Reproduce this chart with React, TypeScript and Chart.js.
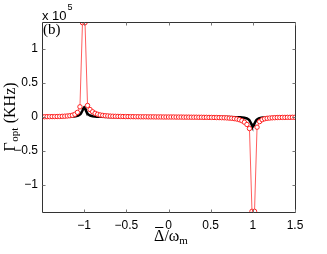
import React, { useEffect, useRef } from "react";
import { Chart, registerables } from "chart.js";

Chart.register(...registerables);

// Red series (markers), x = detuning / omega_m, y in units of 1e5 KHz
const redX = [
  -1.5, -1.47, -1.44, -1.41, -1.38, -1.35, -1.32, -1.29, -1.26, -1.23,
  -1.2, -1.17, -1.14, -1.11, -1.08, -1.05, -1.02, -0.99, -0.96, -0.93,
  -0.9, -0.87, -0.84, -0.81, -0.78, -0.75, -0.72, -0.69, -0.66, -0.63,
  -0.6, -0.57, -0.54, -0.51, -0.48, -0.45, -0.42, -0.39, -0.36, -0.33,
  -0.3, -0.27, -0.24, -0.21, -0.18, -0.15, -0.12, -0.09, -0.06, -0.03,
  0, 0.03, 0.06, 0.09, 0.12, 0.15, 0.18, 0.21, 0.24, 0.27,
  0.3, 0.33, 0.36, 0.39, 0.42, 0.45, 0.48, 0.51, 0.54, 0.57,
  0.6, 0.63, 0.66, 0.69, 0.72, 0.75, 0.78, 0.81, 0.84, 0.87,
  0.9, 0.93, 0.96, 0.99, 1.02, 1.05, 1.08, 1.11, 1.14, 1.17,
  1.2, 1.23, 1.26, 1.29, 1.32, 1.35, 1.38, 1.41, 1.44, 1.47, 1.5,
];
const redY = [
  0.004, 0.004, 0.005, 0.005, 0.006, 0.006, 0.007, 0.008, 0.01, 0.012,
  0.015, 0.019, 0.026, 0.04, 0.068, 0.15, 1.39, 1.39, 0.17, 0.11,
  0.077, 0.054, 0.04, 0.03, 0.024, 0.019, 0.016, 0.013, 0.011, 0.01,
  0.009, 0.008, 0.007, 0.006, 0.006, 0.005, 0.005, 0.004, 0.004, 0.003,
  0.003, 0.003, 0.002, 0.002, 0.002, 0.001, 0.001, 0.001, 0.0, 0.0,
  0.0, 0.0, 0.0, -0.001, -0.001, -0.001, -0.002, -0.002, -0.002, -0.003,
  -0.003, -0.003, -0.004, -0.004, -0.005, -0.005, -0.006, -0.006, -0.007, -0.008,
  -0.009, -0.01, -0.011, -0.013, -0.016, -0.019, -0.024, -0.03, -0.04, -0.054,
  -0.077, -0.11, -0.17, -1.39, -1.39, -0.15, -0.068, -0.04, -0.026, -0.019,
  -0.015, -0.012, -0.01, -0.008, -0.007, -0.006, -0.006, -0.005, -0.005, -0.004, -0.004,
];

// Black series (continuous line)
const blackX = [
  -1.5, -1.3, -1.2, -1.15, -1.1, -1.07, -1.05, -1.04, -1.03, -1.02, -1.01, -1.0,
  -0.99, -0.98, -0.97, -0.96, -0.95, -0.93, -0.9, -0.85, -0.8, -0.7, -0.5, 0,
  0.5, 0.7, 0.8, 0.85, 0.9, 0.93, 0.95, 0.96, 0.97, 0.98, 0.99, 1.0,
  1.01, 1.02, 1.03, 1.04, 1.05, 1.07, 1.1, 1.15, 1.2, 1.3, 1.5,
];
const blackY = [
  0.0005, 0.0014, 0.003, 0.0054, 0.0116, 0.022, 0.037, 0.05, 0.07, 0.097, 0.126, 0.14,
  0.126, 0.097, 0.07, 0.05, 0.037, 0.022, 0.0116, 0.0054, 0.003, 0.0014, 0.0005, 0,
  -0.0005, -0.0014, -0.003, -0.0054, -0.0116, -0.022, -0.037, -0.05, -0.07, -0.097, -0.126, -0.14,
  -0.126, -0.097, -0.07, -0.05, -0.037, -0.022, -0.0116, -0.0054, -0.003, -0.0014, -0.0005,
];

const xTicks = [-1, -0.5, 0, 0.5, 1, 1.5];
const yTicks = [-1, -0.5, 0, 0.5, 1];

const fmt = (v: number) => (v < 0 ? "\u2212" + String(Math.abs(v)) : String(v));

const decorPlugin = {
  id: "decor",
  afterDraw(chart: any) {
    const { ctx, chartArea, scales } = chart;
    const { left, right, top, bottom } = chartArea;
    const L = Math.round(left) + 0.5;
    const R = Math.round(right) + 0.5;
    const T = Math.round(top) + 0.5;
    const B = Math.round(bottom) + 0.5;
    ctx.save();
    // box
    ctx.strokeStyle = "#333";
    ctx.lineWidth = 1;
    ctx.beginPath();
    ctx.moveTo(L, T);
    ctx.lineTo(R, T);
    ctx.lineTo(R, B);
    ctx.lineTo(L, B);
    ctx.closePath();
    ctx.stroke();
    // inward ticks
    ctx.strokeStyle = "#777";
    ctx.beginPath();
    for (const v of xTicks) {
      const px = Math.round(scales.x.getPixelForValue(v)) + 0.5;
      ctx.moveTo(px, B);
      ctx.lineTo(px, B - 3);
      ctx.moveTo(px, T);
      ctx.lineTo(px, T + 3);
    }
    for (const v of yTicks) {
      const py = Math.round(scales.y.getPixelForValue(v)) + 0.5;
      ctx.moveTo(L, py);
      ctx.lineTo(L + 3, py);
      ctx.moveTo(R, py);
      ctx.lineTo(R - 3, py);
    }
    ctx.stroke();

    ctx.fillStyle = "#000";
    // x 10^5
    ctx.font = "13px 'Liberation Sans', Arial, sans-serif";
    ctx.textAlign = "left";
    ctx.textBaseline = "alphabetic";
    ctx.fillText("x 10", 42, 20);
    const w10 = ctx.measureText("x 10").width;
    ctx.font = "9px 'Liberation Sans', Arial, sans-serif";
    ctx.fillText("5", 42 + w10 + 1, 10);

    // (b)
    ctx.font = "15px 'Liberation Serif', 'Times New Roman', serif";
    ctx.fillText("(b)", 43, 34);

    // y title
    ctx.save();
    ctx.translate(15, 117);
    ctx.rotate(-Math.PI / 2);
    const big = "16px 'Liberation Serif', 'Times New Roman', serif";
    const small = "11px 'Liberation Serif', 'Times New Roman', serif";
    ctx.font = big;
    const wG = ctx.measureText("\u0393").width;
    const wRest = ctx.measureText(" (KHz)").width;
    ctx.font = small;
    const wOpt = ctx.measureText("opt").width;
    const total = wG + wOpt + wRest + 1;
    let x0 = -total / 2;
    ctx.font = big;
    ctx.fillText("\u0393", x0, 0);
    x0 += wG + 0.5;
    ctx.font = small;
    ctx.fillText("opt", x0, 3);
    x0 += wOpt + 0.5;
    ctx.font = big;
    ctx.fillText(" (KHz)", x0, 0);
    ctx.restore();

    // x title: Δ̄/ω_m
    const xc = (left + right) / 2 + 3;
    const yb = 241;
    ctx.font = big;
    const wD = ctx.measureText("\u0394").width;
    const wS = ctx.measureText("/").width;
    const wW = ctx.measureText("\u03c9").width;
    ctx.font = small;
    const wM = ctx.measureText("m").width;
    const tot = wD + wS + wW + wM + 1;
    let xs = xc - tot / 2;
    ctx.font = big;
    ctx.fillText("\u0394", xs, yb);
    ctx.fillRect(xs + 1, yb - 14, wD - 2, 1);
    xs += wD;
    ctx.fillText("/", xs, yb);
    xs += wS;
    ctx.fillText("\u03c9", xs, yb);
    xs += wW;
    ctx.font = small;
    ctx.fillText("m", xs, yb + 3);
    ctx.restore();
  },
};

export default function App() {
  const ref = useRef<HTMLCanvasElement | null>(null);
  useEffect(() => {
    if (!ref.current) return;
    const chart = new Chart(ref.current, {
      type: "scatter",
      data: {
        datasets: [
          {
            label: "red",
            data: redX.map((x, i) => ({ x, y: redY[i] })),
            showLine: true,
            borderColor: "rgba(255,0,0,0.8)",
            borderWidth: 0.8,
            pointRadius: 2.2,
            pointBorderWidth: 1,
            pointBorderColor: "#ff2020",
            pointBackgroundColor: "#fff",
            order: 0,
          },
          {
            label: "black",
            data: blackX.map((x, i) => ({ x, y: blackY[i] })),
            showLine: true,
            borderColor: "#000",
            borderWidth: 2.5,
            pointRadius: 0,
            order: 1,
          },
        ],
      },
      options: {
        animation: false,
        responsive: false,
        maintainAspectRatio: false,
        layout: { padding: { top: 22, right: 32, left: 0, bottom: 0 } },
        plugins: { legend: { display: false }, tooltip: { enabled: false } },
        scales: {
          x: {
            type: "linear",
            min: -1.5,
            max: 1.5,
            grid: { display: false, drawTicks: false },
            border: { display: false },
            afterFit: (s: any) => {
              s.height = 42;
            },
            afterBuildTicks: (s: any) => {
              s.ticks = xTicks.map((v) => ({ value: v }));
            },
            ticks: {
              padding: 6,
              color: "#000",
              font: { family: "'Liberation Sans', Arial, sans-serif", size: 12 },
              callback: (v: any) => fmt(Number(v)),
              maxRotation: 0,
              autoSkip: false,
            },
          },
          y: {
            type: "linear",
            min: -1.4,
            max: 1.4,
            grid: { display: false, drawTicks: false },
            border: { display: false },
            afterFit: (s: any) => {
              s.width = 42;
            },
            afterBuildTicks: (s: any) => {
              s.ticks = yTicks.map((v) => ({ value: v }));
            },
            ticks: {
              padding: 4,
              color: "#000",
              font: { family: "'Liberation Sans', Arial, sans-serif", size: 12 },
              callback: (v: any) => fmt(Number(v)),
              autoSkip: false,
            },
          },
        },
      },
      plugins: [decorPlugin],
    });
    return () => chart.destroy();
  }, []);
  return (
    <div style={{ position: "fixed", left: 0, top: 0, width: 327, height: 254, background: "#fff" }}>
      <canvas ref={ref} width={327} height={254} style={{ width: 327, height: 254 }} />
    </div>
  );
}
